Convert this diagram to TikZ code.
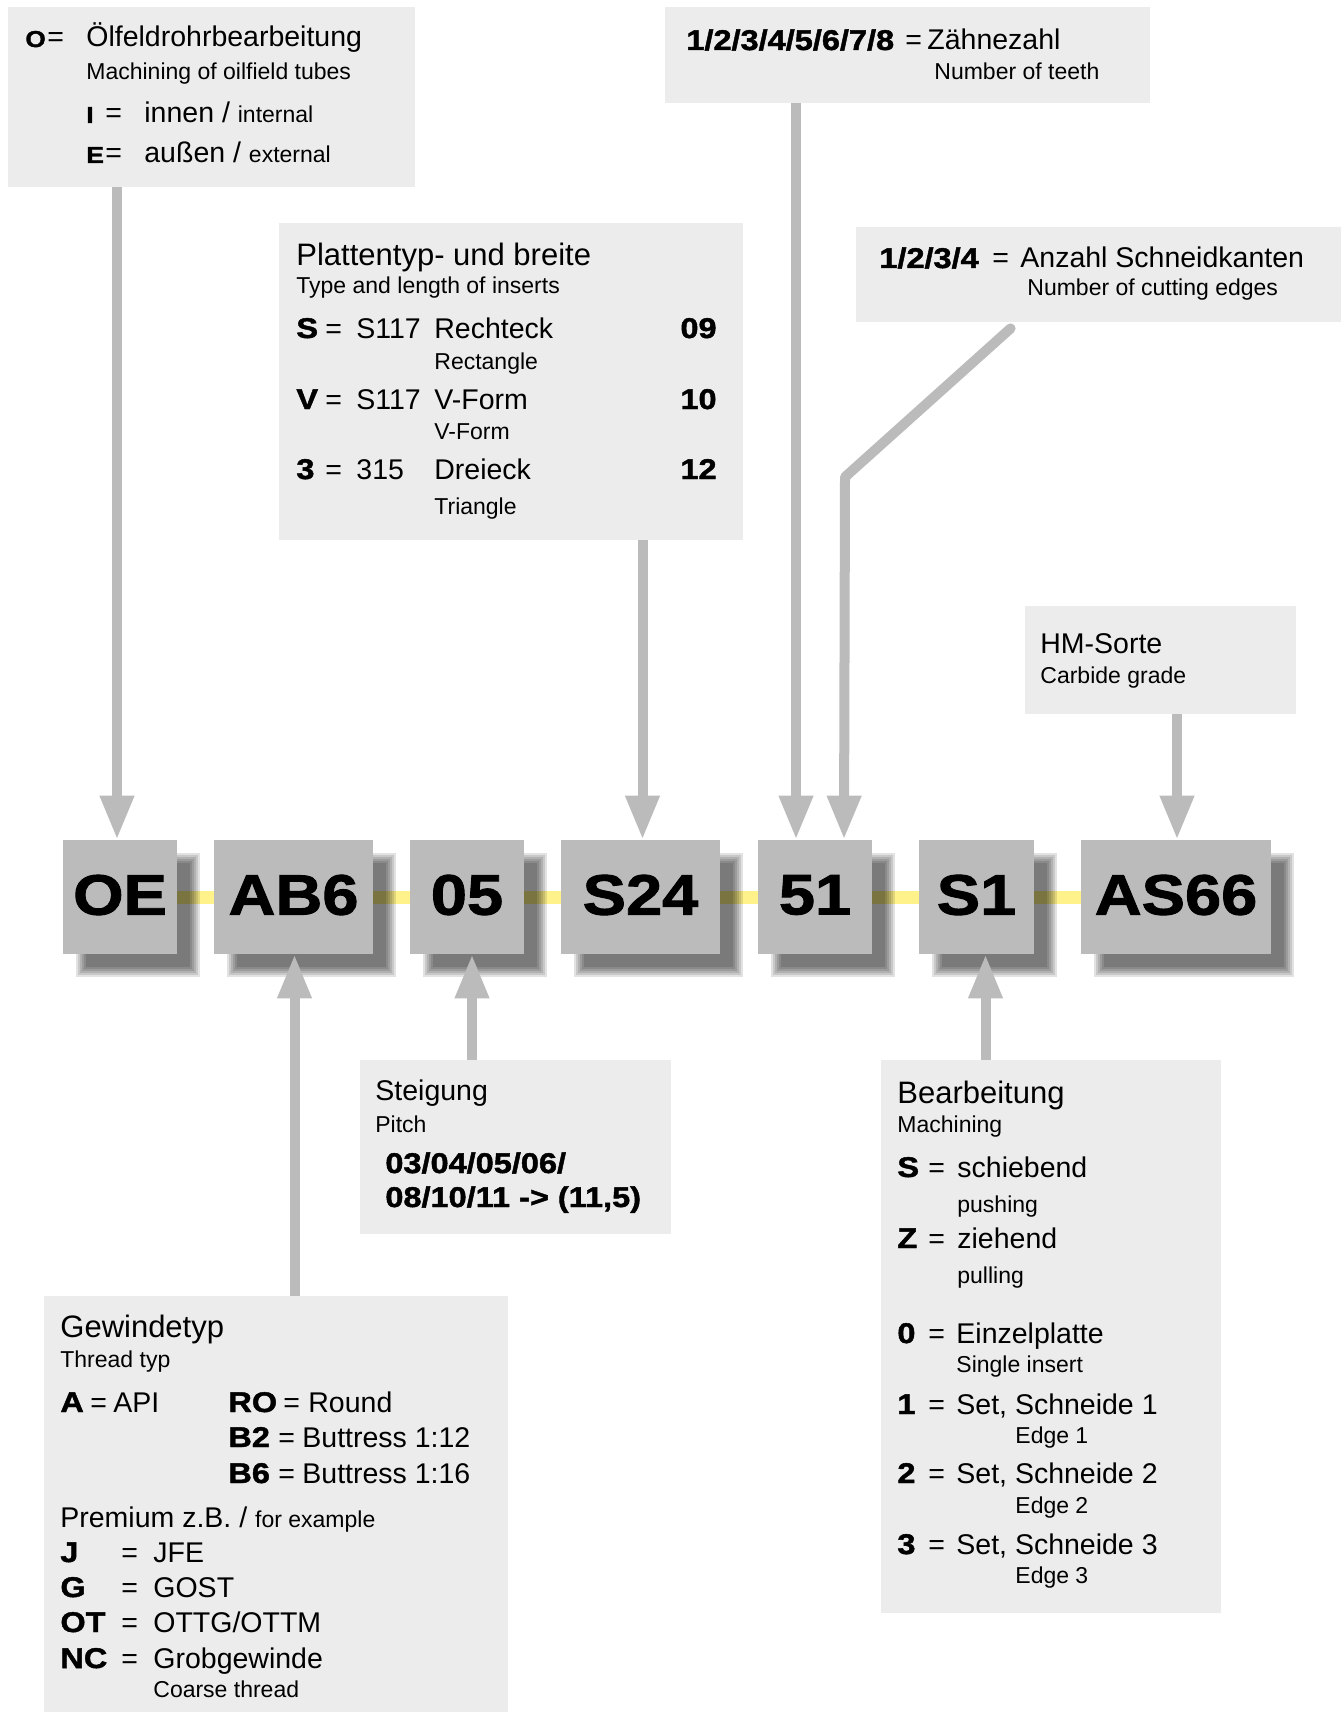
\documentclass[tikz,border=0pt]{standalone}
\usepackage{fontspec}
\setmainfont{Liberation Sans}
\newfontface\heavy{Liberation Sans Bold}[FakeStretch=1.14,FakeBold=1.6]
\usetikzlibrary{arrows.meta,calc,fit}

\definecolor{boxgray}{HTML}{BBBBBB}
\definecolor{infogray}{HTML}{ECECEC}
\definecolor{linkyellow}{HTML}{FFF28A}

\pgfdeclarelayer{bg}
\pgfdeclarelayer{shadow}
\pgfsetlayers{bg,shadow,main}

% font sizes (1px = 0.5pt)
\newcommand\ftitle{\fontsize{15.5pt}{18pt}\selectfont}
\newcommand\fmain{\fontsize{14.25pt}{17pt}\selectfont}
\newcommand\fsub{\fontsize{11.5pt}{14pt}\selectfont}
\newcommand\fkey{\heavy\fontsize{14.25pt}{17pt}\selectfont}
\newcommand\fsmallkey{\heavy\fontsize{11.5pt}{13pt}\selectfont}
\newcommand\fcode{\heavy\fontsize{28.5pt}{34pt}\selectfont}

\tikzset{
  txt/.style={anchor=base west, inner sep=0pt},
  rtxt/.style={anchor=base east, inner sep=0pt},
  codetxt/.style={anchor=center, inner sep=0pt},
  infobox/.style={fill=infogray, inner sep=0pt},
  codebox/.style={fill=boxgray, inner sep=0pt},
  shadowpart/.style={fill=black, opacity=0.115},
  link/.style={draw=linkyellow, line width=6.5pt},
  arr/.style={draw=boxgray, line width=5pt,
    -{Triangle[width=16pt,length=22pt]}}
}

\begin{document}
\begin{tikzpicture}[x=0.5pt, y=-0.5pt]

    % page
    \begin{pgfonlayer}{bg}
    \fill[white] (0,0) rectangle (1343,1712);
    \end{pgfonlayer}
    \useasboundingbox (0,0) rectangle (1343,1712);

    % code boxes
    \node[codebox, fit={(63,840) (177,954)}] (oe) {};
    \node[codebox, fit={(214,840) (373,954)}] (ab6) {};
    \node[codebox, fit={(410,840) (524,954)}] (p05) {};
    \node[codebox, fit={(561,840) (720,954)}] (s24) {};
    \node[codebox, fit={(758,840) (872,954)}] (n51) {};
    \node[codebox, fit={(919,840) (1034,954)}] (s1) {};
    \node[codebox, fit={(1081,840) (1271,954)}] (as66) {};
    \node[codetxt] (oetxt) at ($(oe)+(0,-2)$) {\fcode OE};
    \node[codetxt] (ab6txt) at ($(ab6)+(0,-2)$) {\fcode AB6};
    \node[codetxt] (p05txt) at ($(p05)+(0,-2)$) {\fcode 05};
    \node[codetxt] (s24txt) at ($(s24)+(0,-2)$) {\fcode S24};
    \node[codetxt] (n51txt) at ($(n51)+(0,-2)$) {\fcode 51};
    \node[codetxt] (s1txt) at ($(s1)+(0,-2)$) {\fcode S1};
    \node[codetxt] (as66txt) at ($(as66)+(0,-2)$) {\fcode AS66};

    % yellow line behind the code
    \begin{pgfonlayer}{bg}
    \draw[link] (oe.center) -- (as66.center);
    \end{pgfonlayer}

    % soft shadows, offset 18px
    \begin{pgfonlayer}{shadow}
    \foreach \b in {oe,ab6,p05,s24,n51,s1,as66}
      \foreach \k in {0,...,5}
        \fill[shadowpart] ($(\b.north west)+(13+2*\k,13+2*\k)$)
          rectangle ($(\b.south east)+(23-2*\k,23-2*\k)$);
    \end{pgfonlayer}

    % info boxes
    \node[infobox, fit={(8,7) (415,187)}] (iox) {};
    \node[infobox, fit={(665,7) (1150,103)}] (izahn) {};
    \node[infobox, fit={(279,223) (743,540)}] (iplatte) {};
    \node[infobox, fit={(856,227) (1341,322)}] (ischneid) {};
    \node[infobox, fit={(1025,606) (1296,714)}] (ihm) {};
    \node[infobox, fit={(360,1060) (671,1234)}] (isteig) {};
    \node[infobox, fit={(44,1296) (508,1712)}] (igew) {};
    \node[infobox, fit={(881,1060) (1221,1613)}] (ibearb) {};

    % arrow tips on the code boxes
    \coordinate (toe) at ($(oe.north)+(-3,0)$);
    \coordinate (tab6) at ($(ab6.south)+(1,0)$);
    \coordinate (t05) at ($(p05.south)+(5,0)$);
    \coordinate (ts24) at ($(s24.north)+(2,0)$);
    \coordinate (t51l) at ($(n51.north)+(-19,0)$);
    \coordinate (t51r) at ($(n51.north)+(29,0)$);
    \coordinate (ts1) at ($(s1.south)+(9,0)$);
    \coordinate (tas66) at ($(as66.north)+(1,0)$);
    \coordinate (kstart) at ($(ischneid.south west)+(155,6)$);
    \coordinate (kink) at (845,477);

    % arrows
    \draw[arr] (iox.south -| toe) -- (toe);
    \draw[arr] (igew.north -| tab6) -- (tab6);
    \draw[arr] (isteig.north -| t05) -- (t05);
    \draw[arr] (iplatte.south -| ts24) -- (ts24);
    \draw[arr] (izahn.south -| t51l) -- (t51l);
    \draw[arr, line cap=round, line join=round] (kstart) -- (kink) -- (t51r);
    \draw[arr] (ibearb.north -| ts1) -- (ts1);
    \draw[arr] (ihm.south -| tas66) -- (tas66);

    % O = oilfield
    \node[txt] (okey) at (25,47) {\fsmallkey O};
    \node[txt] (oeq) at (47,47) {\fmain =};
    \node[txt] (ode) at (86,47) {\fmain Ölfeldrohrbearbeitung};
    \node[txt] (oen) at (86,80) {\fsub Machining of oilfield tubes};
    \node[txt] (ikey) at (86,123) {\fsmallkey I};
    \node[txt] (ieq) at (105,123) {\fmain =};
    \node[txt] (ide) at (144,123) {\fmain innen / {\fsub internal}};
    \node[txt] (ekey) at (86,163) {\fsmallkey E};
    \node[txt] (eeq) at (105,163) {\fmain =};
    \node[txt] (ede) at (144,163) {\fmain außen / {\fsub external}};

    % teeth
    \node[txt] (zkey) at (686,50) {\fkey 1/2/3/4/5/6/7/8};
    \node[txt] (zeq) at (905,50) {\fmain =};
    \node[txt] (zde) at (927,50) {\fmain Zähnezahl};
    \node[txt] (zen) at (934,80) {\fsub Number of teeth};

    % inserts
    \node[txt] (pde) at (296,265) {\ftitle Plattentyp- und breite};
    \node[txt] (pen) at (296,293) {\fsub Type and length of inserts};
    \node[txt] (pskey) at (296,338) {\fkey S};
    \node[txt] (pseq) at (325,338) {\fmain =};
    \node[txt] (pstyp) at (356,338) {\fmain S117};
    \node[txt] (psde) at (434,338) {\fmain Rechteck};
    \node[rtxt] (psnr) at (717,338) {\fkey 09};
    \node[txt] (psen) at (434,369) {\fsub Rectangle};
    \node[txt] (pvkey) at (296,409) {\fkey V};
    \node[txt] (pveq) at (325,409) {\fmain =};
    \node[txt] (pvtyp) at (356,409) {\fmain S117};
    \node[txt] (pvde) at (434,409) {\fmain V-Form};
    \node[rtxt] (pvnr) at (717,409) {\fkey 10};
    \node[txt] (pven) at (434,439) {\fsub V-Form};
    \node[txt] (pdkey) at (296,479) {\fkey 3};
    \node[txt] (pdeq) at (325,479) {\fmain =};
    \node[txt] (pdtyp) at (356,479) {\fmain 315};
    \node[txt] (pdde) at (434,479) {\fmain Dreieck};
    \node[rtxt] (pdnr) at (717,479) {\fkey 12};
    \node[txt] (pden) at (434,514) {\fsub Triangle};

    % cutting edges
    \node[txt] (skey) at (879,268) {\fkey 1/2/3/4};
    \node[txt] (seq) at (992,268) {\fmain =};
    \node[txt] (sde) at (1020,268) {\fmain Anzahl Schneidkanten};
    \node[txt] (sen) at (1027,295) {\fsub Number of cutting edges};

    % carbide
    \node[txt] (hde) at (1040,653) {\fmain HM-Sorte};
    \node[txt] (hen) at (1040,683) {\fsub Carbide grade};

    % pitch
    \node[txt] (tde) at (375,1100) {\fmain Steigung};
    \node[txt] (ten) at (375,1132) {\fsub Pitch};
    \node[txt] (tla) at (385,1173) {\fkey 03/04/05/06/};
    \node[txt] (tlb) at (385,1207) {\fkey 08/10/11 -> (11,5)};

    % thread
    \node[txt] (gde) at (60,1337) {\ftitle Gewindetyp};
    \node[txt] (gen) at (60,1367) {\fsub Thread typ};
    \node[txt] (gakey) at (60,1412) {\fkey A};
    \node[txt] (gaeq) at (90,1412) {\fmain =};
    \node[txt] (gade) at (113,1412) {\fmain API};
    \node[txt] (grkey) at (228,1412) {\fkey RO};
    \node[txt] (greq) at (283,1412) {\fmain =};
    \node[txt] (grde) at (308,1412) {\fmain Round};
    \node[txt] (gbakey) at (228,1447) {\fkey B2};
    \node[txt] (gbaeq) at (278,1447) {\fmain =};
    \node[txt] (gbade) at (302,1447) {\fmain Buttress 1:12};
    \node[txt] (gbbkey) at (228,1483) {\fkey B6};
    \node[txt] (gbbeq) at (278,1483) {\fmain =};
    \node[txt] (gbbde) at (302,1483) {\fmain Buttress 1:16};
    \node[txt] (gpde) at (60,1527) {\fmain Premium z.B. / {\fsub for example}};
    \node[txt] (gjkey) at (60,1562) {\fkey J};
    \node[txt] (gjeq) at (121,1562) {\fmain =};
    \node[txt] (gjde) at (153,1562) {\fmain JFE};
    \node[txt] (ggkey) at (60,1597) {\fkey G};
    \node[txt] (ggeq) at (121,1597) {\fmain =};
    \node[txt] (ggde) at (153,1597) {\fmain GOST};
    \node[txt] (gokey) at (60,1632) {\fkey OT};
    \node[txt] (goeq) at (121,1632) {\fmain =};
    \node[txt] (gode) at (153,1632) {\fmain OTTG/OTTM};
    \node[txt] (gnkey) at (60,1668) {\fkey NC};
    \node[txt] (gneq) at (121,1668) {\fmain =};
    \node[txt] (gnde) at (153,1668) {\fmain Grobgewinde};
    \node[txt] (gnen) at (153,1697) {\fsub Coarse thread};

    % machining
    \node[txt] (bde) at (897,1103) {\ftitle Bearbeitung};
    \node[txt] (ben) at (897,1132) {\fsub Machining};
    \node[txt] (bskey) at (897,1177) {\fkey S};
    \node[txt] (bseq) at (928,1177) {\fmain =};
    \node[txt] (bsde) at (957,1177) {\fmain schiebend};
    \node[txt] (bsen) at (957,1212) {\fsub pushing};
    \node[txt] (bzkey) at (897,1248) {\fkey Z};
    \node[txt] (bzeq) at (928,1248) {\fmain =};
    \node[txt] (bzde) at (957,1248) {\fmain ziehend};
    \node[txt] (bzen) at (957,1283) {\fsub pulling};
    \node[txt] (bnkey) at (897,1343) {\fkey 0};
    \node[txt] (bneq) at (928,1343) {\fmain =};
    \node[txt] (bnde) at (956,1343) {\fmain Einzelplatte};
    \node[txt] (bnen) at (956,1372) {\fsub Single insert};
    \node[txt] (bakey) at (897,1414) {\fkey 1};
    \node[txt] (baeq) at (928,1414) {\fmain =};
    \node[txt] (bade) at (956,1414) {\fmain Set, Schneide 1};
    \node[txt] (baen) at (1015,1443) {\fsub Edge 1};
    \node[txt] (bbkey) at (897,1483) {\fkey 2};
    \node[txt] (bbeq) at (928,1483) {\fmain =};
    \node[txt] (bbde) at (956,1483) {\fmain Set, Schneide 2};
    \node[txt] (bben) at (1015,1513) {\fsub Edge 2};
    \node[txt] (bckey) at (897,1554) {\fkey 3};
    \node[txt] (bceq) at (928,1554) {\fmain =};
    \node[txt] (bcde) at (956,1554) {\fmain Set, Schneide 3};
    \node[txt] (bcen) at (1015,1583) {\fsub Edge 3};

\end{tikzpicture}
\end{document}
